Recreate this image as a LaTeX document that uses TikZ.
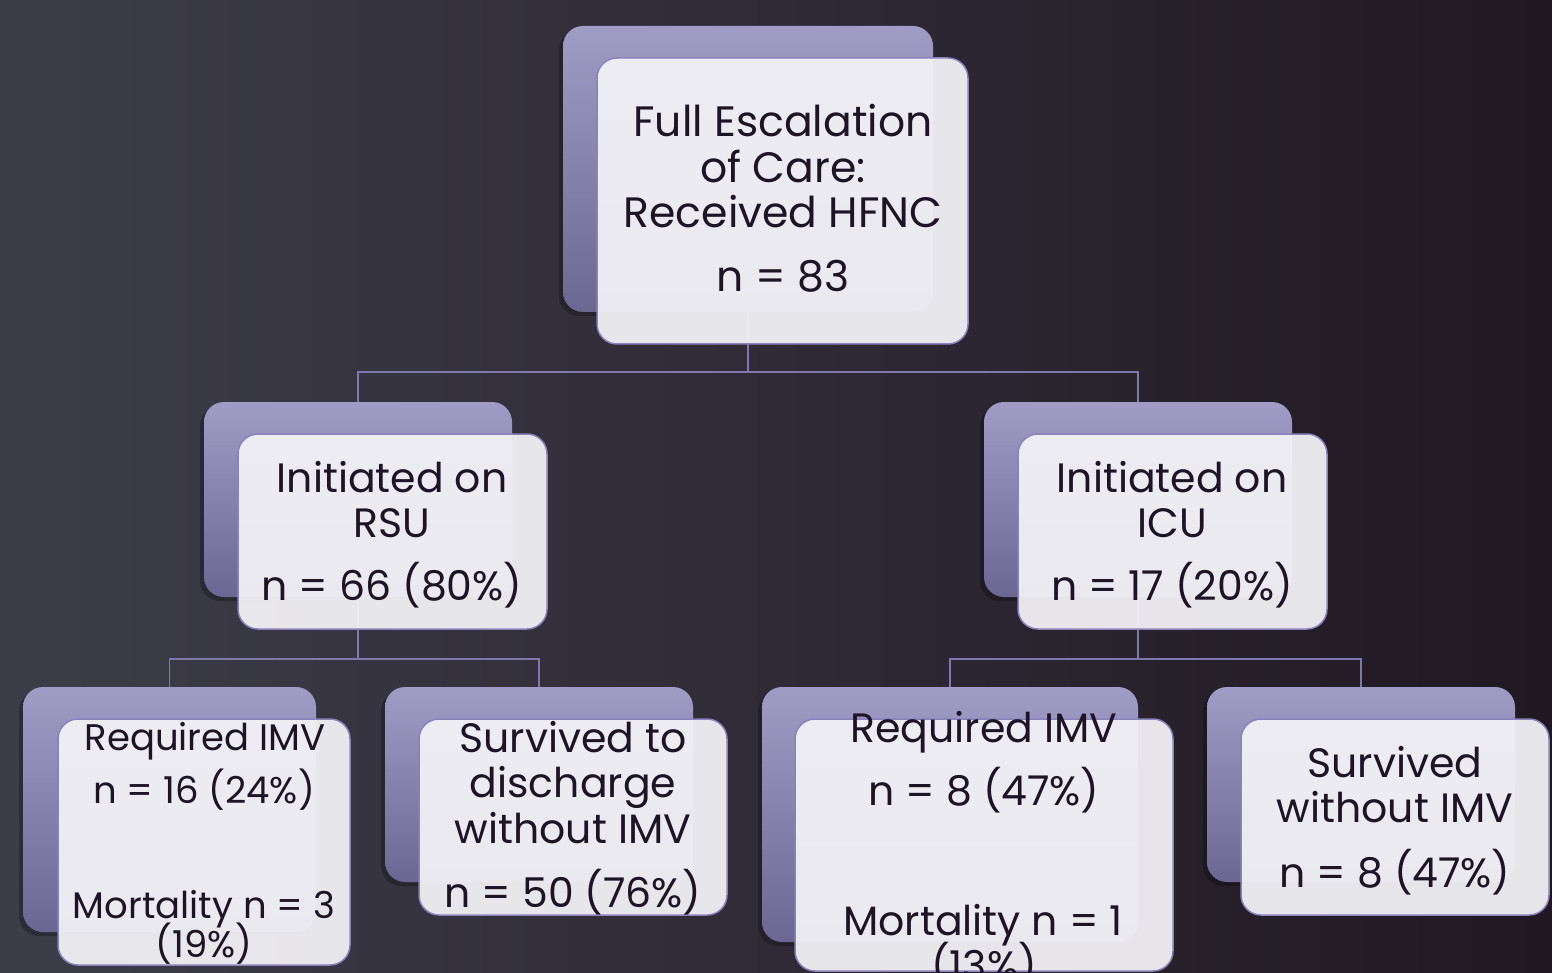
\documentclass[tikz,border=0pt]{standalone}
\usepackage{fontspec}
\setmainfont{Poppins}
\usetikzlibrary{calc}
\definecolor{bgL}{HTML}{3D3D4A}
\definecolor{bgR}{HTML}{201822}
\definecolor{backT}{HTML}{A19CC6}
\definecolor{backB}{HTML}{6C6693}
\definecolor{frontF}{HTML}{F3F2F6}
\definecolor{edgeC}{HTML}{8A82BA}
\definecolor{linkC}{HTML}{7F78AC}
\definecolor{ink}{HTML}{1D1426}
\tikzset{
  backbox/.style={rectangle, rounded corners=20pt, top color=backT, bottom color=backB, draw=none, inner sep=0pt, outer sep=0pt, anchor=north west},
  shadowbox/.style={rectangle, rounded corners=20pt, fill=black, fill opacity=0.25, draw=none, inner sep=0pt, outer sep=0pt, anchor=north west},
  frontbox/.style={rectangle, rounded corners=20pt, fill=frontF, fill opacity=0.94, draw=edgeC, line width=1.5pt, inner sep=0pt, outer sep=0pt, anchor=north west},
  linkline/.style={draw=linkC, line width=1.3pt},
  txt/.style={anchor=base, inner sep=0pt, text=ink},
  ftop/.style={font=\fontsize{42.5}{45}\selectfont},
  fbig/.style={font=\fontsize{41}{45}\selectfont},
  fsmall/.style={font=\fontsize{37}{38}\selectfont},
  fmid/.style={font=\fontsize{41}{42}\selectfont},
}
\begin{document}
\begin{tikzpicture}[x=1pt,y=-1pt]
\useasboundingbox (0,0) rectangle (1552,973);
\shade[left color=bgL, right color=bgR] (0,0) rectangle (1552,973);

% shadows
\node[shadowbox, minimum width=370pt, minimum height=286pt] (ts) at (559,30) {};
\node[shadowbox, minimum width=308pt, minimum height=195pt] (ls) at (200,406) {};
\node[shadowbox, minimum width=308pt, minimum height=195pt] (rs) at (980,406) {};
\node[shadowbox, minimum width=293pt, minimum height=245pt] (as) at (19,691) {};
\node[shadowbox, minimum width=308pt, minimum height=195pt] (bs) at (381,691) {};
\node[shadowbox, minimum width=376pt, minimum height=255pt] (cs) at (758,691) {};
\node[shadowbox, minimum width=308pt, minimum height=195pt] (ds) at (1203,691) {};

% back boxes
\node[backbox, minimum width=370pt, minimum height=286pt] (tb) at (563,26) {};
\node[backbox, minimum width=308pt, minimum height=195pt] (lb) at (204,402) {};
\node[backbox, minimum width=308pt, minimum height=195pt] (rb) at (984,402) {};
\node[backbox, minimum width=293pt, minimum height=245pt] (ab) at (23,687) {};
\node[backbox, minimum width=308pt, minimum height=195pt] (bb) at (385,687) {};
\node[backbox, minimum width=376pt, minimum height=255pt] (cb) at (762,687) {};
\node[backbox, minimum width=308pt, minimum height=195pt] (db) at (1207,687) {};

% connectors
\coordinate (j1) at (748,372);
\coordinate (j2) at (358,659);
\coordinate (j3) at (1138,659);
\draw[linkline] (tb.south) -- (j1);
\draw[linkline] (j1) -| (lb.north);
\draw[linkline] (j1) -| (rb.north);
\draw[linkline] (lb.south) -- (j2);
\draw[linkline] (j2) -| (ab.north);
\draw[linkline] (j2) -| (bb.north);
\draw[linkline] (rb.south) -- (j3);
\draw[linkline] (j3) -| (cb.north);
\draw[linkline] (j3) -| (db.north);

% front boxes
\node[frontbox, minimum width=371pt, minimum height=286pt] (tf) at (597,58) {};
\node[frontbox, minimum width=309pt, minimum height=195pt] (lf) at (238,434) {};
\node[frontbox, minimum width=309pt, minimum height=195pt] (rf) at (1018,434) {};
\node[frontbox, minimum width=292pt, minimum height=246pt] (af) at (58,719) {};
\node[frontbox, minimum width=308pt, minimum height=196pt] (bf) at (419,719) {};
\node[frontbox, minimum width=378pt, minimum height=252pt] (cf) at (795,719) {};
\node[frontbox, minimum width=308pt, minimum height=196pt] (df) at (1241,719) {};

% texts: top
\node[txt, ftop] (t1) at (783,137) {Full Escalation};
\node[txt, ftop] (t2) at (783,183) {of Care:};
\node[txt, ftop] (t3) at (783,228) {Received HFNC};
\node[txt, ftop] (t4) at (783,292) {n = 83};
% level 2
\node[txt, fbig] (l1) at (392,492) {Initiated on};
\node[txt, fbig] (l2) at (392,537) {RSU};
\node[txt, fbig] (l3) at (392,600) {n = 66 (80\%)};
\node[txt, fbig] (r1) at (1172,492) {Initiated on};
\node[txt, fbig] (r2) at (1172,537) {ICU};
\node[txt, fbig] (r3) at (1172,600) {n = 17 (20\%)};
% level 3
\node[txt, fsmall] (a1) at (205,750) {Required IMV};
\node[txt, fsmall] (a2) at (204,803) {n = 16 (24\%)};
\node[txt, fsmall] (a3) at (204,918) {Mortality n = 3};
\node[txt, fsmall] (a4) at (204,957) {(19\%)};
\node[txt, fbig] (b1) at (573,752) {Survived to};
\node[txt, fbig] (b2) at (573,797) {discharge};
\node[txt, fbig] (b3) at (573,843) {without IMV};
\node[txt, fbig] (b4) at (573,907) {n = 50 (76\%)};
\node[txt, fmid] (c1) at (984,742) {Required IMV};
\node[txt, fmid] (c2) at (984,805) {n = 8 (47\%)};
\node[txt, fmid] (c3) at (983,935) {Mortality n = 1};
\node[txt, fmid] (c4) at (984,980) {(13\%)};
\node[txt, fbig] (d1) at (1395,777) {Survived};
\node[txt, fbig] (d2) at (1395,822) {without IMV};
\node[txt, fbig] (d3) at (1395,887) {n = 8 (47\%)};
\end{tikzpicture}
\end{document}
